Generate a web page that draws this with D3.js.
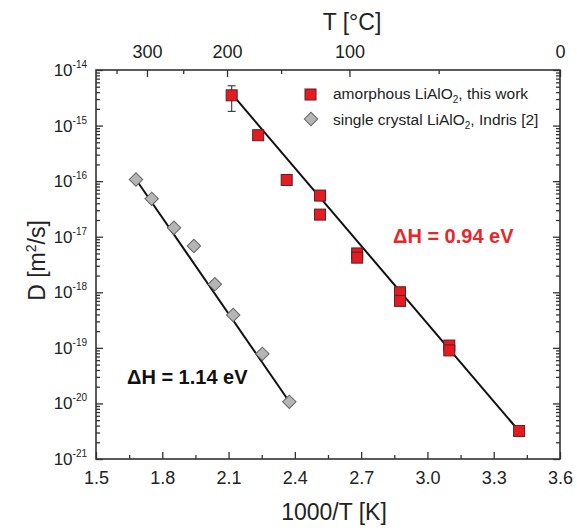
<!DOCTYPE html>
<html>
<head>
<meta charset="utf-8">
<script src="https://cdn.jsdelivr.net/npm/d3@7"></script>
<style>
  body { margin: 0; background: #fff; }
  text { font-family: "Liberation Sans", Arial, Helvetica, sans-serif; fill: #222; }
</style>
</head>
<body>
<div id="chart"></div>
<script>
// amorphous LiAlO2 (this work)
const amorphX = [2.114, 2.234, 2.363, 2.514, 2.514, 2.682, 2.682, 2.876, 2.876, 3.099, 3.099, 3.415];
const amorphD = [3.5e-15, 6.7e-16, 1.05e-16, 5.5e-17, 2.5e-17, 5.0e-18, 4.2e-18, 1.0e-18, 7.0e-19, 1.1e-19, 9.0e-20, 3.2e-21];
const amorphErrLo = [1.8e-15];
const amorphErrHi = [5.2e-15];
// single crystal LiAlO2, Indris [2]
const crystalX = [1.681, 1.752, 1.853, 1.943, 2.038, 2.121, 2.253, 2.375];
const crystalD = [1.07e-16, 4.8e-17, 1.45e-17, 6.8e-18, 1.4e-18, 3.9e-19, 7.8e-20, 1.07e-20];
// Arrhenius fit lines (end points)
const fitAmorphX = [2.11, 3.42];
const fitAmorphD = [3.9e-15, 3.0e-21];
const fitCrystalX = [1.681, 2.375];
const fitCrystalD = [1.07e-16, 1.07e-20];

const xTicks = [1.5, 1.8, 2.1, 2.4, 2.7, 3.0, 3.3, 3.6];
const xMinorTicks = [1.65, 1.95, 2.25, 2.55, 2.85, 3.15, 3.45];
const topTicksT = [300, 200, 100, 0];
const topMinorT = [350, 250, 150, 50];
const yDecades = [-21, -20, -19, -18, -17, -16, -15, -14];

const width = 577, height = 528;
const margin = { top: 70, right: 17, bottom: 69, left: 96 };
const innerWidth = width - margin.left - margin.right;
const innerHeight = height - margin.top - margin.bottom;

const kOffset = 1000 / 3.6; // T axis offset as drawn in the figure
const toInv = t => 1000 / (t + kOffset);

const svg = d3.select("#chart").append("svg")
    .attr("width", width)
    .attr("height", height);

const inner = svg.append("g")
    .attr("transform", `translate(${margin.left},${margin.top})`);

const x = d3.scaleLinear().domain([1.5, 3.6]).range([0, innerWidth]);
const y = d3.scaleLog().domain([1e-21, 1e-14]).range([innerHeight, 0]);

// ---------- axes ----------
const axisColour = "#333";
const styleAxis = g => {
    g.select(".domain").remove();
    g.selectAll("line").attr("stroke", axisColour).attr("stroke-width", 1.3);
};

// bottom
inner.append("g")
    .attr("transform", `translate(0,${innerHeight})`)
    .call(d3.axisBottom(x).tickValues(xTicks).tickSize(-7).tickPadding(12).tickFormat(d3.format(".1f")))
    .call(styleAxis)
    .call(g => g.selectAll("text").attr("font-size", 18).attr("fill", "#222"));
inner.append("g")
    .attr("transform", `translate(0,${innerHeight})`)
    .call(d3.axisBottom(x).tickValues(xMinorTicks).tickSize(-4).tickFormat(""))
    .call(styleAxis);

// top (temperature in °C)
inner.append("g")
    .call(d3.axisTop(x).tickValues(topTicksT.map(toInv)).tickSize(-7).tickPadding(12)
        .tickFormat(v => Math.round(1000 / v - kOffset)))
    .call(styleAxis)
    .call(g => g.selectAll("text").attr("font-size", 18).attr("fill", "#222"));
inner.append("g")
    .call(d3.axisTop(x).tickValues(topMinorT.map(toInv)).tickSize(-4).tickFormat(""))
    .call(styleAxis);

// left / right log ticks
const yMajor = yDecades.map(e => Math.pow(10, e));
const yMinor = [];
yDecades.slice(0, -1).forEach(e => {
    for (let k = 2; k <= 9; k++) yMinor.push(k * Math.pow(10, e));
});

inner.append("g")
    .call(d3.axisLeft(y).tickValues(yMajor).tickSize(-7).tickFormat(""))
    .call(styleAxis);
inner.append("g")
    .call(d3.axisLeft(y).tickValues(yMinor).tickSize(-4).tickFormat(""))
    .call(styleAxis);
inner.append("g")
    .attr("transform", `translate(${innerWidth},0)`)
    .call(d3.axisRight(y).tickValues(yMajor).tickSize(-7).tickFormat(""))
    .call(styleAxis);
inner.append("g")
    .attr("transform", `translate(${innerWidth},0)`)
    .call(d3.axisRight(y).tickValues(yMinor).tickSize(-4).tickFormat(""))
    .call(styleAxis);

// y tick labels 10^n
const yLabels = inner.append("g").selectAll("text")
    .data(yDecades)
    .join("text")
        .attr("x", -9)
        .attr("y", d => y(Math.pow(10, d)) + 6)
        .attr("text-anchor", "end")
        .attr("font-size", 17);
yLabels.append("tspan").text("10");
yLabels.append("tspan").text(d => "-" + Math.abs(d))
    .attr("font-size", 10).attr("dy", -8);

// frame
inner.append("rect")
    .attr("width", innerWidth)
    .attr("height", innerHeight)
    .attr("fill", "none")
    .attr("stroke", axisColour)
    .attr("stroke-width", 1.6);

// axis titles
svg.append("text")
    .text("T [°C]")
    .attr("x", margin.left + innerWidth / 2 + 24)
    .attr("y", 30)
    .attr("text-anchor", "middle")
    .attr("font-size", 23);

svg.append("text")
    .text("1000/T [K]")
    .attr("x", margin.left + innerWidth / 2 + 6)
    .attr("y", 520)
    .attr("text-anchor", "middle")
    .attr("font-size", 23);

const yTitle = svg.append("text")
    .attr("transform", `translate(45,${margin.top + innerHeight / 2 - 4}) rotate(-90)`)
    .attr("text-anchor", "middle")
    .attr("font-size", 23);
yTitle.append("tspan").text("D [m");
yTitle.append("tspan").text("2").attr("font-size", 14).attr("dy", -9);
yTitle.append("tspan").text("/s]").attr("dy", 9);

// ---------- fit lines ----------
const line = d3.line().x(d => x(d[0])).y(d => y(d[1]));
inner.append("path")
    .attr("d", line(d3.zip(fitAmorphX, fitAmorphD)))
    .attr("stroke", "#111").attr("stroke-width", 2).attr("fill", "none");
inner.append("path")
    .attr("d", line(d3.zip(fitCrystalX, fitCrystalD)))
    .attr("stroke", "#111").attr("stroke-width", 2).attr("fill", "none");

// ---------- error bar ----------
const errG = inner.append("g").attr("stroke", "#444").attr("stroke-width", 1.2);
amorphErrLo.forEach((lo, i) => {
    const cx = x(amorphX[i]);
    errG.append("line").attr("x1", cx).attr("x2", cx).attr("y1", y(lo)).attr("y2", y(amorphErrHi[i]));
    errG.append("line").attr("x1", cx - 4).attr("x2", cx + 4).attr("y1", y(lo)).attr("y2", y(lo));
    errG.append("line").attr("x1", cx - 4).attr("x2", cx + 4).attr("y1", y(amorphErrHi[i])).attr("y2", y(amorphErrHi[i]));
});

// ---------- markers ----------
const sq = 11;
const redFill = "#e51b23", redStroke = "#5a2020";
const greyFill = "#b5b5b5", greyStroke = "#666";

inner.append("g").selectAll("path")
    .data(d3.zip(crystalX, crystalD))
    .join("path")
        .attr("d", d3.symbol(d3.symbolSquare, 90)())
        .attr("transform", d => `translate(${x(d[0])},${y(d[1])}) rotate(45)`)
        .attr("fill", greyFill)
        .attr("stroke", greyStroke)
        .attr("stroke-width", 1);

inner.append("g").selectAll("rect")
    .data(d3.zip(amorphX, amorphD))
    .join("rect")
        .attr("x", d => x(d[0]) - sq / 2)
        .attr("y", d => y(d[1]) - sq / 2)
        .attr("width", sq)
        .attr("height", sq)
        .attr("fill", redFill)
        .attr("stroke", redStroke)
        .attr("stroke-width", 1);

// ---------- legend ----------
const legend = svg.append("g");
legend.append("rect")
    .attr("x", 305).attr("y", 89).attr("width", sq).attr("height", sq)
    .attr("fill", redFill).attr("stroke", redStroke);
legend.append("path")
    .attr("d", d3.symbol(d3.symbolSquare, 90)())
    .attr("transform", "translate(311,119) rotate(45)")
    .attr("fill", greyFill).attr("stroke", greyStroke);

const leg1 = legend.append("text").attr("x", 333).attr("y", 99).attr("font-size", 15.5);
leg1.append("tspan").text("amorphous LiAlO");
leg1.append("tspan").text("2").attr("font-size", 10).attr("dy", 4);
leg1.append("tspan").text(", this work").attr("dy", -4);

const leg2 = legend.append("text").attr("x", 333).attr("y", 125).attr("font-size", 15.5);
leg2.append("tspan").text("single crystal LiAlO");
leg2.append("tspan").text("2").attr("font-size", 10).attr("dy", 4);
leg2.append("tspan").text(", Indris [2]").attr("dy", -4);

// ---------- annotations ----------
svg.append("text")
    .text("ΔH = 0.94 eV")
    .attr("x", 393).attr("y", 243)
    .attr("font-size", 20).attr("font-weight", "bold")
    .style("fill", "#e8262b");

svg.append("text")
    .text("ΔH = 1.14 eV")
    .attr("x", 127).attr("y", 384)
    .attr("font-size", 20).attr("font-weight", "bold")
    .style("fill", "#111");
</script>
</body>
</html>
